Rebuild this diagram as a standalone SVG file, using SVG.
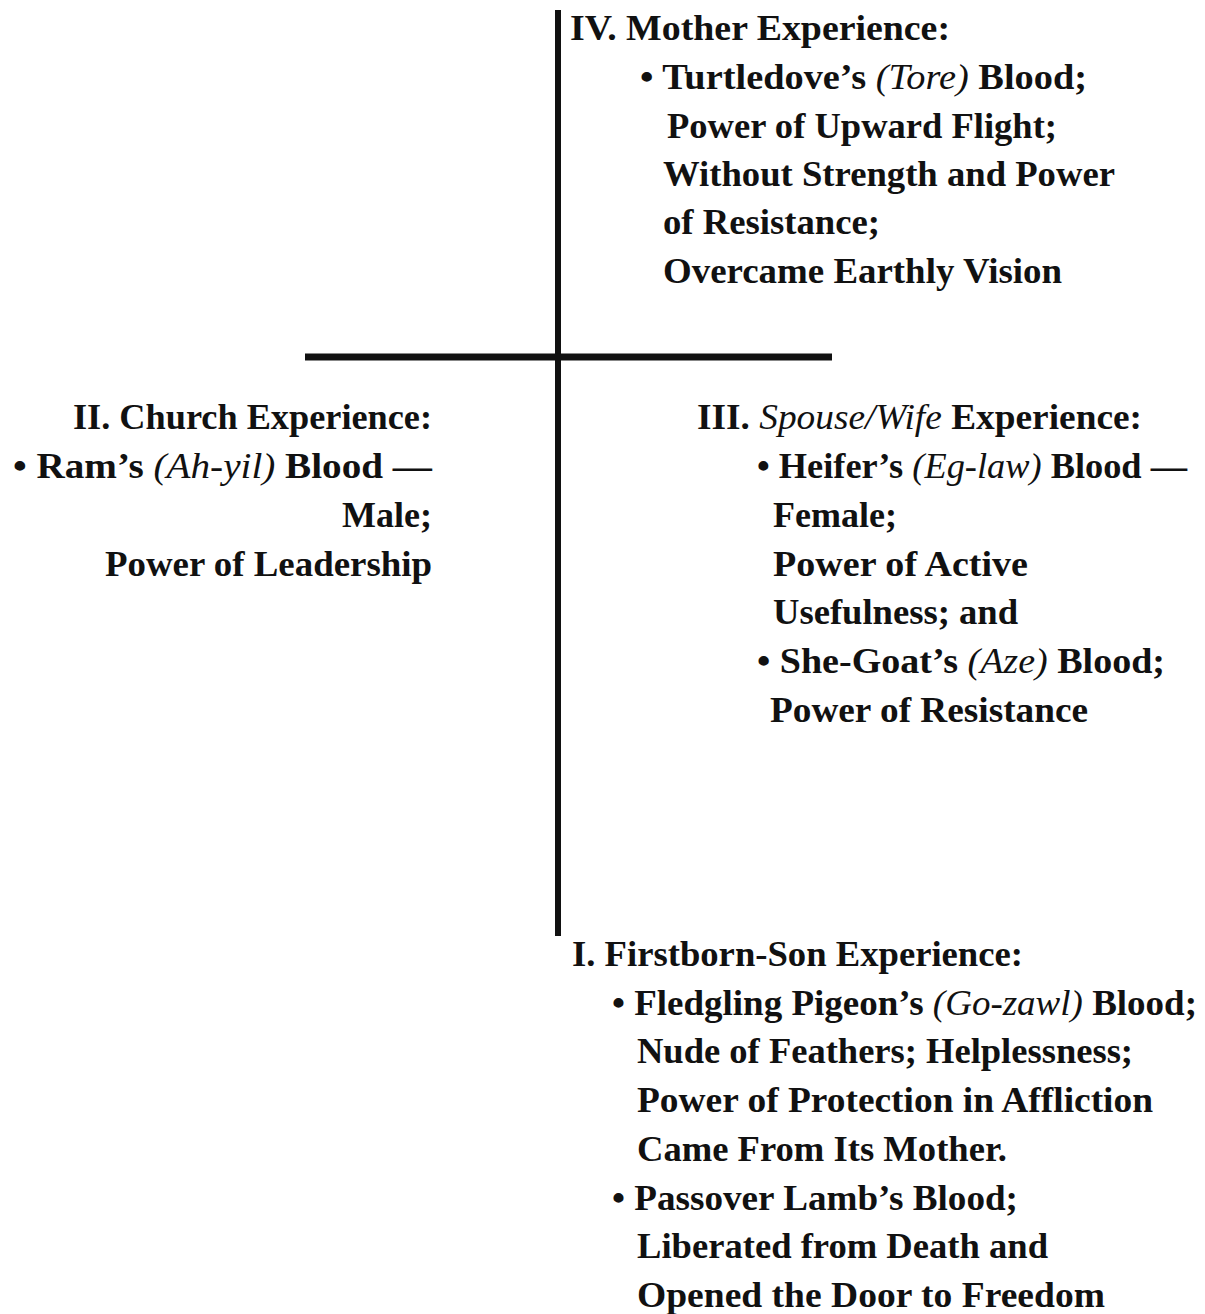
<svg xmlns="http://www.w3.org/2000/svg" width="1205" height="1314" viewBox="0 0 1205 1314">
<style>
text{font-family:"Liberation Serif","Times New Roman",serif;font-size:36px;font-weight:bold;fill:#111}
.i{font-style:italic;font-weight:normal}
.line{stroke:#111;fill:none}
</style>
<rect width="1205" height="1314" fill="#fff"/>
<g id="connectors">
<line class="line" x1="558" y1="10" x2="558" y2="936" stroke-width="6"/>
<line class="line" x1="305" y1="357" x2="832" y2="357" stroke-width="7"/>
</g>
<g id="node-iv">
<text x="570" y="40" textLength="380" lengthAdjust="spacingAndGlyphs">IV. Mother Experience:</text>
<text x="640" y="89" textLength="447" lengthAdjust="spacingAndGlyphs">• Turtledove’s <tspan class="i">(Tore)</tspan> Blood;</text>
<text x="667" y="138" textLength="390" lengthAdjust="spacingAndGlyphs">Power of Upward Flight;</text>
<text x="663" y="186" textLength="452" lengthAdjust="spacingAndGlyphs">Without Strength and Power</text>
<text x="663" y="234" textLength="217" lengthAdjust="spacingAndGlyphs">of Resistance;</text>
<text x="663" y="283" textLength="399" lengthAdjust="spacingAndGlyphs">Overcame Earthly Vision</text>
</g>
<g id="node-ii" text-anchor="end">
<text x="432" y="429" textLength="359" lengthAdjust="spacingAndGlyphs">II. Church Experience:</text>
<text x="432" y="478" textLength="419" lengthAdjust="spacingAndGlyphs">• Ram’s <tspan class="i">(Ah-yil)</tspan> Blood —</text>
<text x="432" y="527">Male;</text>
<text x="432" y="576" textLength="327" lengthAdjust="spacingAndGlyphs">Power of Leadership</text>
</g>
<g id="node-iii">
<text x="697" y="429" textLength="445" lengthAdjust="spacingAndGlyphs">III. <tspan class="i">Spouse/Wife</tspan> Experience:</text>
<text x="757" y="478" textLength="430" lengthAdjust="spacingAndGlyphs">• Heifer’s <tspan class="i">(Eg-law)</tspan> Blood —</text>
<text x="773" y="527">Female;</text>
<text x="773" y="576" textLength="255" lengthAdjust="spacingAndGlyphs">Power of Active</text>
<text x="773" y="624" textLength="245" lengthAdjust="spacingAndGlyphs">Usefulness; and</text>
<text x="757" y="673" textLength="408" lengthAdjust="spacingAndGlyphs">• She-Goat’s <tspan class="i">(Aze)</tspan> Blood;</text>
<text x="770" y="722" textLength="318" lengthAdjust="spacingAndGlyphs">Power of Resistance</text>
</g>
<g id="node-i">
<text x="572" y="966" textLength="451" lengthAdjust="spacingAndGlyphs">I. Firstborn-Son Experience:</text>
<text x="612" y="1015" textLength="585" lengthAdjust="spacingAndGlyphs">• Fledgling Pigeon’s <tspan class="i">(Go-zawl)</tspan> Blood;</text>
<text x="637" y="1063" textLength="496" lengthAdjust="spacingAndGlyphs">Nude of Feathers; Helplessness;</text>
<text x="637" y="1112" textLength="516" lengthAdjust="spacingAndGlyphs">Power of Protection in Affliction</text>
<text x="637" y="1161" textLength="370" lengthAdjust="spacingAndGlyphs">Came From Its Mother.</text>
<text x="612" y="1210" textLength="406" lengthAdjust="spacingAndGlyphs">• Passover Lamb’s Blood;</text>
<text x="637" y="1258" textLength="411" lengthAdjust="spacingAndGlyphs">Liberated from Death and</text>
<text x="637" y="1307" textLength="468" lengthAdjust="spacingAndGlyphs">Opened the Door to Freedom</text>
</g>
</svg>
